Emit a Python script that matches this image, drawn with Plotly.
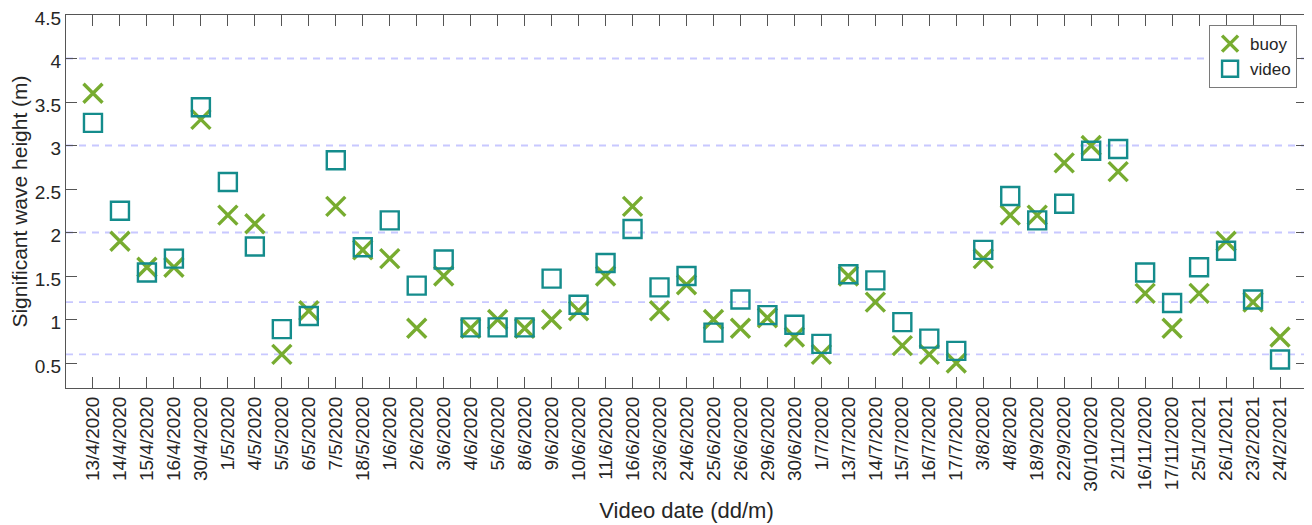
import plotly.graph_objects as go

dates = ["13/4/2020", "14/4/2020", "15/4/2020", "16/4/2020", "30/4/2020", "1/5/2020", "4/5/2020",
         "5/5/2020", "6/5/2020", "7/5/2020", "18/5/2020", "1/6/2020", "2/6/2020", "3/6/2020",
         "4/6/2020", "5/6/2020", "8/6/2020", "9/6/2020", "10/6/2020", "11/6/2020", "16/6/2020",
         "23/6/2020", "24/6/2020", "25/6/2020", "26/6/2020", "29/6/2020", "30/6/2020", "1/7/2020",
         "13/7/2020", "14/7/2020", "15/7/2020", "16/7/2020", "17/7/2020", "3/8/2020", "4/8/2020",
         "18/9/2020", "22/9/2020", "30/10/2020", "2/11/2020", "16/11/2020", "17/11/2020",
         "25/1/2021", "26/1/2021", "23/2/2021", "24/2/2021"]

buoy = [3.6, 1.9, 1.6, 1.6, 3.3, 2.2, 2.1, 0.6, 1.1, 2.3, 1.8, 1.7, 0.9, 1.5,
        0.9, 1.0, 0.9, 1.0, 1.1, 1.5, 2.3, 1.1, 1.4, 1.0, 0.9, 1.02, 0.8, 0.6,
        1.5, 1.2, 0.7, 0.6, 0.5, 1.7, 2.2, 2.2, 2.8, 3.0, 2.7, 1.3, 0.9,
        1.3, 1.9, 1.2, 0.8]

video = [3.26, 2.25, 1.54, 1.7, 3.44, 2.58, 1.84, 0.89, 1.04, 2.83, 1.83, 2.14, 1.39, 1.69,
         0.91, 0.91, 0.91, 1.47, 1.17, 1.65, 2.04, 1.37, 1.5, 0.85, 1.23, 1.05, 0.94, 0.72,
         1.52, 1.45, 0.97, 0.78, 0.64, 1.8, 2.42, 2.14, 2.33, 2.94, 2.96, 1.54, 1.19,
         1.6, 1.79, 1.23, 0.54]

ref_levels = [0.6, 1.2, 2, 3, 4]
y_ticks = [0.5, 1, 1.5, 2, 2.5, 3, 3.5, 4, 4.5]

xpos = list(range(1, len(dates) + 1))

GREEN = "#77AC30"
TEAL = "#148C8C"
FONT = "Liberation Sans, Arial, sans-serif"
TXT = "#262626"

fig = go.Figure()
fig.add_trace(go.Scatter(
    x=xpos, y=buoy, mode="markers", name="buoy",
    marker=dict(symbol="x-thin", size=19, color=GREEN, line=dict(color=GREEN, width=3.4)),
))
fig.add_trace(go.Scatter(
    x=xpos, y=video, mode="markers", name="video",
    marker=dict(symbol="square-open", size=18, color=TEAL, line=dict(color=TEAL, width=2.4)),
))

for lv in ref_levels:
    fig.add_shape(type="line", xref="paper", yref="y", x0=0, x1=1, y0=lv, y1=lv,
                  line=dict(color="#C8C8FF", width=1.8, dash="7px,6px"), layer="below")

fig.update_layout(
    width=1304, height=517,
    margin=dict(l=58, r=5, t=7, b=137),
    paper_bgcolor="white", plot_bgcolor="white",
    font=dict(family=FONT, size=19, color=TXT),
    showlegend=True,
    legend=dict(x=0.992, y=0.973, xanchor="right", yanchor="top",
                bordercolor="#7A7A7A", borderwidth=1, bgcolor="white",
                font=dict(size=17, color=TXT), itemwidth=30,
                tracegroupgap=0),
)

fig.update_xaxes(
    range=[0, len(dates) + 1], tickmode="array", tickvals=xpos, ticktext=dates,
    tickangle=-90, ticks="inside", ticklen=11, tickcolor="#555555", tickwidth=1,
    showline=True, linecolor="#555555", linewidth=1, mirror="ticks",
    showgrid=False, zeroline=False, ticklabeloverflow="allow", automargin=False,
    tickfont=dict(size=19, color=TXT),
    title=dict(text="Video date (dd/m)", font=dict(size=22, color=TXT), standoff=11),
)
fig.update_yaxes(
    range=[0.213, 4.5], tickmode="array", tickvals=y_ticks,
    ticktext=[f"{v:g}" for v in y_ticks],
    ticks="inside", ticklen=11, tickcolor="#555555", tickwidth=1,
    showline=True, linecolor="#555555", linewidth=1, mirror="ticks",
    showgrid=False, zeroline=False, ticklabeloverflow="allow", automargin=False,
    ticklabelshift=3,
    tickfont=dict(size=19, color=TXT),
    title=dict(text="Significant wave height (m)", font=dict(size=21, color=TXT), standoff=6),
)

fig.write_html("out.html")
